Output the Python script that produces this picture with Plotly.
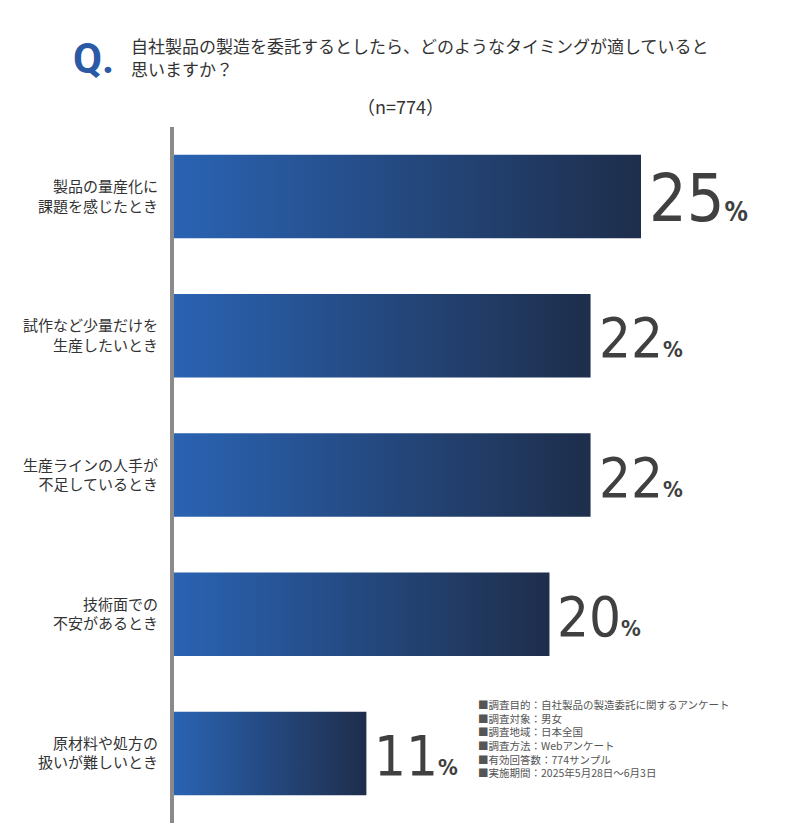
import plotly.graph_objects as go

categories = ["製品の量産化に<br>課題を感じたとき", "試作など少量だけを<br>生産したいとき",
              "生産ラインの人手が<br>不足しているとき", "技術面での<br>不安があるとき",
              "原材料や処方の<br>扱いが難しいとき"]
values = [25.0, 22.3, 22.3, 20.1, 10.3]
labels = ["25", "22", "22", "20", "11"]
title_lines = ["自社製品の製造を委託するとしたら、どのようなタイミングが適していると", "思いますか？"]
notes = ["■調査目的：自社製品の製造委託に関するアンケート", "■調査対象：男女", "■調査地域：日本全国",
         "■調査方法：Webアンケート", "■有効回答数：774サンプル", "■実施期間：2025年5月28日～6月3日"]

OFF = 8
W, H = 800, 840
L, R, T, B = 174 - OFF, 10, 127 - OFF, 25
pw, ph = W - L - R, H - T - B
def px(x): return (x - OFF - L) / pw
def py(y): return 1 - (y - OFF - T) / ph

fig = go.Figure()
hw = 0.3
for i, v in enumerate(values):
    fig.add_trace(go.Scatter(
        x=[0, v, v, 0, 0], y=[i - hw, i - hw, i + hw, i + hw, i - hw],
        mode="lines", line=dict(width=0), fill="toself",
        fillgradient=dict(type="horizontal", colorscale=[[0, "#2a63b3"], [1, "#1e2e4b"]]),
        hoverinfo="skip", showlegend=False))
    big = 66 if i == 0 else 56
    fig.add_annotation(x=v, y=i, xref="x", yref="y", xanchor="left", xshift=6, yshift=-2,
                       text=f"{labels[i]}<b><span style='font-size:{big*0.4:.0f}px'>%</span></b>",
                       showarrow=False, font=dict(size=big, color="#404040", family="DejaVu Sans Condensed"))

fig.update_xaxes(range=[0, pw / 18.68], visible=False, fixedrange=True)
fig.update_yaxes(range=[4.5, -0.5], tickvals=list(range(5)), ticktext=categories,
                 showline=True, linecolor="#8a8a8a", linewidth=4, showgrid=False, zeroline=False,
                 ticks="", ticklabelstandoff=9, tickfont=dict(size=15, color="#333"))

fig.add_annotation(x=px(116), y=py(58), xref="paper", yref="paper", xanchor="right", yanchor="middle",
                   text="<b>Q.</b>", showarrow=False,
                   font=dict(size=42, color="#2a5aa6", family="Roboto"))
for k, line in enumerate(title_lines):
    fig.add_annotation(x=px(129), y=py(46 + 22 * k), xref="paper", yref="paper", xanchor="left",
                       yanchor="middle", showarrow=False, text=line,
                       font=dict(size=17, color="#333", family="Noto Sans CJK JP"))
fig.add_annotation(x=px(400), y=py(106), xref="paper", yref="paper", xanchor="center", yanchor="middle",
                   text="（n=774）", showarrow=False, font=dict(size=18, color="#333", family="Noto Sans CJK JP"))
fig.add_annotation(x=px(476), y=py(738), xref="paper", yref="paper", xanchor="left", yanchor="middle",
                   align="left", text="<br>".join(notes), showarrow=False,
                   font=dict(size=10.5, color="#555", family="Noto Sans CJK JP"))

fig.update_layout(width=W, height=H, margin=dict(l=L, r=R, t=T, b=B),
                  plot_bgcolor="white", paper_bgcolor="white",
                  font=dict(family="Noto Sans CJK JP"))
fig.write_html("out.html")
